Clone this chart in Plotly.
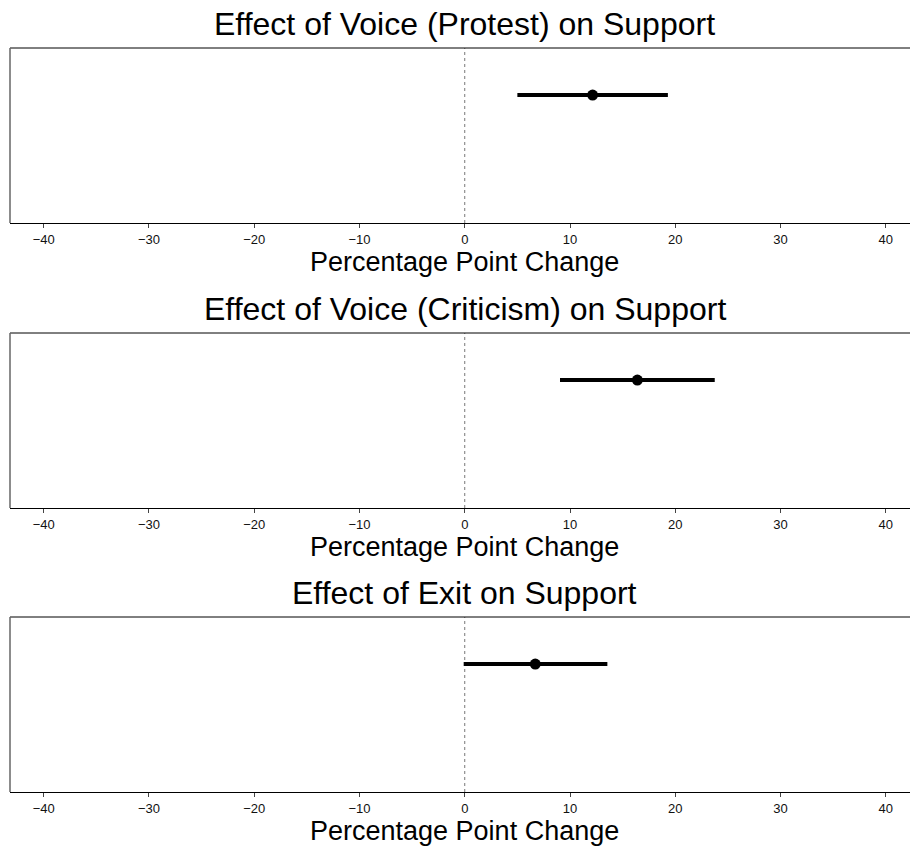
import plotly.graph_objects as go
from plotly.subplots import make_subplots

titles = ["Effect of Voice (Protest) on Support",
          "Effect of Voice (Criticism) on Support",
          "Effect of Exit on Support"]
estimates = [12.15, 16.4, 6.7]
lower = [5.0, 9.05, -0.1]
upper = [19.3, 23.75, 13.55]
tick_vals = [-40, -30, -20, -10, 0, 10, 20, 30, 40]
x_title = "Percentage Point Change"
y_pos = 0.731

W, H = 910, 847
FONT = "Liberation Sans, Arial, Helvetica, sans-serif"

fig = make_subplots(rows=3, cols=1)

# pixel positions of boxes (top, bottom)
boxes = [(48, 223), (333, 508), (617, 792)]

for i in range(3):
    r = i + 1
    fig.add_trace(go.Scatter(x=[lower[i], upper[i]], y=[y_pos, y_pos], mode="lines",
                             line=dict(color="black", width=4), showlegend=False,
                             hoverinfo="skip"), row=r, col=1)
    fig.add_trace(go.Scatter(x=[estimates[i]], y=[y_pos], mode="markers",
                             marker=dict(color="black", size=11), showlegend=False),
                  row=r, col=1)
    top, bot = boxes[i]
    ax = "xaxis" if r == 1 else f"xaxis{r}"
    ay = "yaxis" if r == 1 else f"yaxis{r}"
    fig.layout[ay].update(domain=[(H - bot) / H, (H - top) / H], range=[0, 1],
                          showticklabels=False, showgrid=False, zeroline=False,
                          ticks="", fixedrange=True)
    fig.layout[ax].update(domain=[0, 1], range=[-43.2, 42.3], showgrid=False,
                          zeroline=False, tickvals=tick_vals, ticks="outside",
                          ticklen=4, tickcolor="#444", showline=True,
                          linecolor="black", linewidth=1,
                          tickfont=dict(family=FONT, size=13, color="#111"))
    xr = "x" if r == 1 else f"x{r}"
    yr = "y" if r == 1 else f"y{r}"
    # top and left frame lines
    fig.add_shape(type="line", xref=f"{xr} domain", yref=f"{yr} domain",
                  x0=0, x1=1, y0=1, y1=1, line=dict(color="black", width=1))
    fig.add_shape(type="line", xref=f"{xr} domain", yref=f"{yr} domain",
                  x0=0, x1=0, y0=0, y1=1, line=dict(color="#666", width=1.5))
    # zero reference line
    fig.add_shape(type="line", xref=xr, yref=f"{yr} domain",
                  x0=0, x1=0, y0=0, y1=1, line=dict(color="#777", width=1, dash="dot"),
                  layer="below")
    fig.add_annotation(text=titles[i], xref=xr, yref=f"{yr} domain", x=0, y=1,
                       yanchor="middle", yshift=24, showarrow=False,
                       font=dict(family=FONT, size=32, color="black"))
    fig.add_annotation(text=x_title, xref=xr, yref=f"{yr} domain", x=0, y=0,
                       yanchor="middle", yshift=-39, showarrow=False,
                       font=dict(family=FONT, size=27, color="black"))

fig.update_layout(width=W, height=H, margin=dict(l=10, r=0, t=0, b=0),
                  plot_bgcolor="white", paper_bgcolor="white", showlegend=False)

fig.write_html("out.html", config={"displayModeBar": False},
               post_script="document.body.style.margin='0';document.body.style.overflow='hidden';")
